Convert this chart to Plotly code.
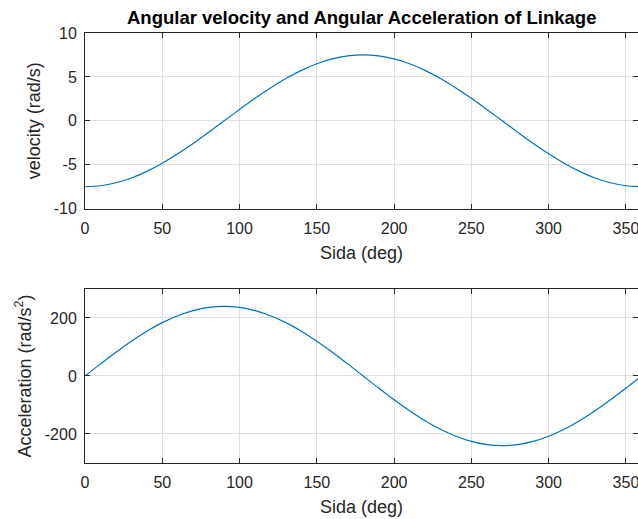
import plotly.graph_objects as go

theta_deg = list(range(0, 361, 10))
velocity = [-7.50, -7.39, -7.05, -6.50, -5.75, -4.82, -3.75, -2.57, -1.30, 0.00,
            1.30, 2.57, 3.75, 4.82, 5.75, 6.50, 7.05, 7.39, 7.50,
            7.39, 7.05, 6.50, 5.75, 4.82, 3.75, 2.57, 1.30, 0.00,
            -1.30, -2.57, -3.75, -4.82, -5.75, -6.50, -7.05, -7.39, -7.50]
acceleration = [0, 41.7, 82.1, 120.0, 154.3, 183.9, 207.8, 225.5, 236.4, 240.0,
                236.4, 225.5, 207.8, 183.9, 154.3, 120.0, 82.1, 41.7, 0,
                -41.7, -82.1, -120.0, -154.3, -183.9, -207.8, -225.5, -236.4, -240.0,
                -236.4, -225.5, -207.8, -183.9, -154.3, -120.0, -82.1, -41.7, 0]

x_ticks = [0, 50, 100, 150, 200, 250, 300, 350]
vel_ticks = [-10, -5, 0, 5, 10]
vel_tick_text = ["-10", "-5", "0", "5", "10"]
acc_ticks = [-200, 0, 200]
acc_tick_text = ["-200", "0", "200"]

title_text = "Angular velocity and Angular Acceleration of Linkage"
xlabel = "Sida (deg)"
ylabel_top = "velocity (rad/s)"
ylabel_bot = "Acceleration (rad/s<sup>2</sup>)"

BLUE = "#0072BD"
AX = "#262626"
GRID = "#dfdfdf"
FONT = "Arial, Liberation Sans, sans-serif"

fig = go.Figure()
fig.add_trace(go.Scatter(x=theta_deg, y=velocity, mode="lines", line=dict(color=BLUE, width=1.2, shape="spline"),
                         xaxis="x", yaxis="y", showlegend=False))
fig.add_trace(go.Scatter(x=theta_deg, y=acceleration, mode="lines", line=dict(color=BLUE, width=1.2, shape="spline"),
                         xaxis="x2", yaxis="y2", showlegend=False))

axis_common = dict(showline=True, linecolor=AX, linewidth=1, mirror="ticks", ticks="inside", ticklen=5,
                   tickcolor=AX, showgrid=True, gridcolor=GRID, gridwidth=1, zeroline=False,
                   ticklabeloverflow="allow",
                   tickfont=dict(family=FONT, size=16, color=AX))

xax = dict(range=[0, 357.8], tickvals=x_ticks, ticklabelstandoff=5,
           title=dict(text=xlabel, font=dict(size=18, color=AX), standoff=10), **axis_common)

fig.update_layout(
    width=638, height=519,
    margin=dict(l=85, r=0, t=33, b=56),
    paper_bgcolor="white", plot_bgcolor="white",
    font=dict(family=FONT, color=AX),
    xaxis=dict(domain=[0, 1], anchor="y", **xax),
    yaxis=dict(domain=[0.5914, 1], anchor="x", range=[-10, 10], tickvals=vel_ticks, ticktext=vel_tick_text,
               ticklabelstandoff=4,
               title=dict(text=ylabel_top, font=dict(size=18, color=AX), standoff=8), **axis_common),
    xaxis2=dict(domain=[0, 1], anchor="y2", **xax),
    yaxis2=dict(domain=[0, 0.4047], anchor="x2", range=[-300, 300], tickvals=acc_ticks, ticktext=acc_tick_text,
                ticklabelstandoff=4,
                title=dict(text=ylabel_bot, font=dict(size=18, color=AX), standoff=8), **axis_common),
    annotations=[dict(text="<b>" + title_text + "</b>", x=0.5, xref="paper", y=1, yref="paper",
                      yanchor="bottom", yshift=3, showarrow=False, font=dict(family=FONT, size=18.5, color="black"))],
)

fig.write_html("out.html")
